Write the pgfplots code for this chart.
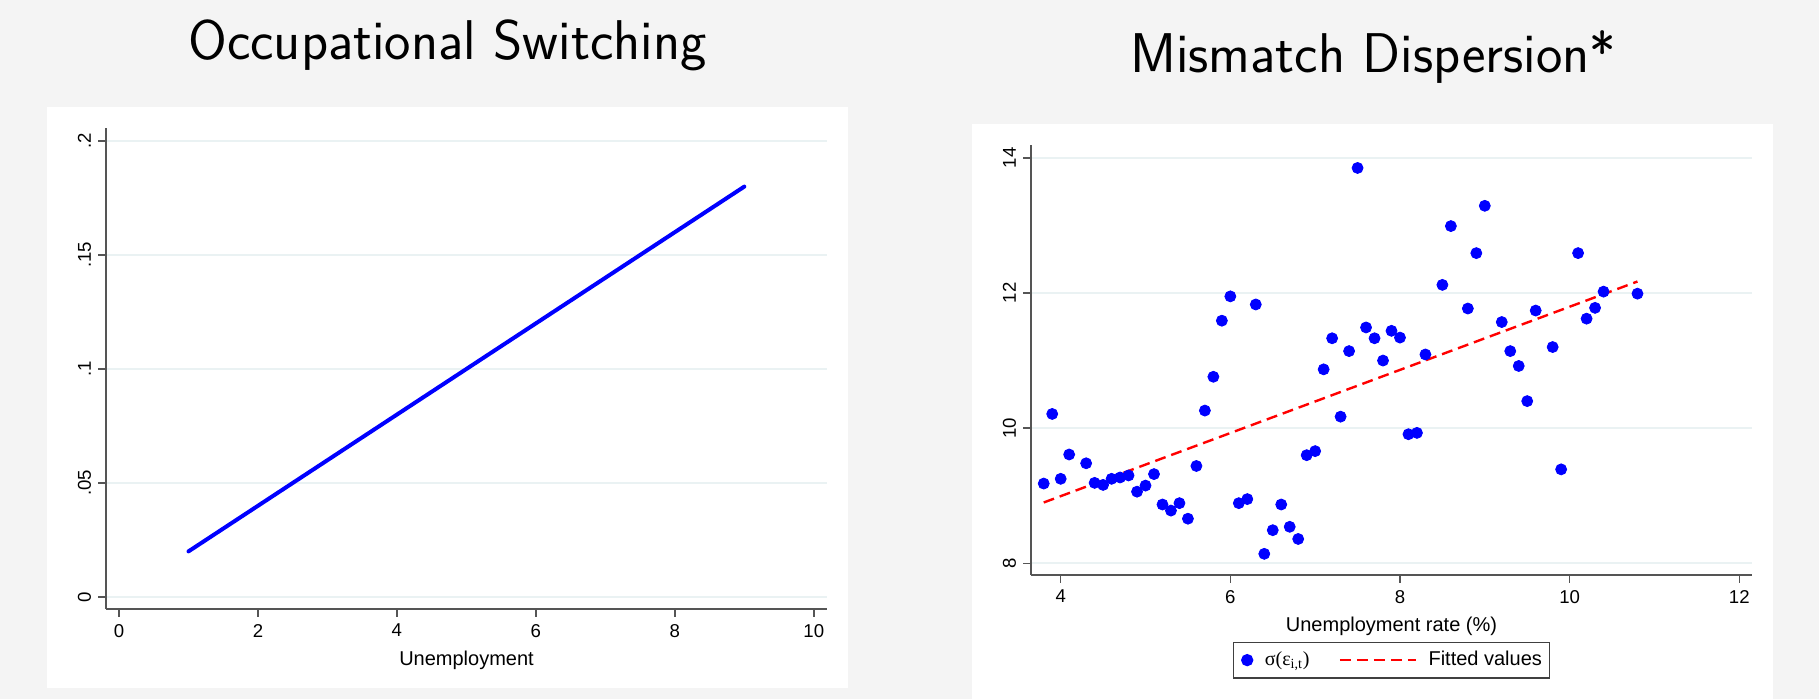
\documentclass[border=0pt]{standalone}
\usepackage{fontspec}
\setmainfont{Liberation Sans}
\newfontfamily\serifgr{Liberation Serif}
\usepackage{pgfplots}
\pgfplotsset{compat=1.18}
\definecolor{bggray}{RGB}{244,244,244}
\definecolor{gridc}{RGB}{234,242,243}
\definecolor{axc}{RGB}{85,85,85}
\pgfplotsset{stata/.style={
  scale only axis,
  axis lines=left,
  axis line style={-, axc, line width=0.75pt},
  every tick/.style={axc, line width=0.75pt},
  major tick length=4pt,
  tick align=outside,
  ymajorgrids,
  major grid style={gridc, line width=1pt},
  tick label style={font=\fontsize{9.3}{10}\selectfont},
  label style={font=\fontsize{10}{11}\selectfont},
  yticklabel style={rotate=90, anchor=south},
}}
\pgfplotstableread{
x y
3.8 9.18
3.9 10.21
4.0 9.25
4.1 9.61
4.3 9.48
4.4 9.19
4.5 9.16
4.6 9.25
4.7 9.27
4.8 9.30
4.9 9.06
5.0 9.15
5.1 9.32
5.2 8.87
5.3 8.78
5.4 8.89
5.5 8.66
5.6 9.44
5.7 10.26
5.8 10.76
5.9 11.59
6.0 11.95
6.1 8.89
6.2 8.95
6.3 11.83
6.4 8.14
6.5 8.49
6.6 8.87
6.7 8.54
6.8 8.36
6.9 9.60
7.0 9.66
7.1 10.87
7.2 11.33
7.3 10.17
7.4 11.14
7.5 13.85
7.6 11.49
7.7 11.33
7.8 11.00
7.9 11.44
8.0 11.34
8.1 9.91
8.2 9.93
8.3 11.09
8.5 12.12
8.6 12.99
8.8 11.77
8.9 12.59
9.0 13.29
9.2 11.57
9.3 11.14
9.4 10.92
9.5 10.40
9.6 11.74
9.8 11.20
9.9 9.39
10.1 12.59
10.2 11.62
10.3 11.78
10.4 12.02
10.8 11.99
}\mismatch
\begin{document}
\begin{tikzpicture}
\useasboundingbox (0,0) rectangle (909.5pt,349.5pt);
\fill[bggray] (0,0) rectangle (909.5pt,349.5pt);
\fill[white] (23.5pt,5.5pt) rectangle (424pt,296pt);
\fill[white] (486pt,0pt) rectangle (886.5pt,287.5pt);
\node[anchor=base, font=\sffamily\fontsize{28}{30}\selectfont] at (223.75pt,319.5pt) {Occupational Switching};
\node[anchor=base, font=\sffamily\fontsize{28}{30}\selectfont] at (686.5pt,313pt) {Mismatch Dispersion*};
\begin{axis}[stata,
  at={(53pt,45pt)}, anchor=south west,
  width=360.5pt, height=240.5pt,
  xmin=-0.187, xmax=10.19, ymin=-0.00526, ymax=0.2057,
  xtick={0,2,4,6,8,10}, xticklabels={0,2,4,6,8,10},
  ytick={0,0.05,0.1,0.15,0.2}, yticklabels={0,.05,.1,.15,.2},
  xlabel={Unemployment},
]
\addplot[blue, line width=2pt, line cap=round] coordinates {(1,0.02) (9,0.18)};
\end{axis}
\begin{axis}[stata,
  at={(515.5pt,62pt)}, anchor=south west,
  width=360.5pt, height=215pt,
  xmin=3.65, xmax=12.15, ymin=7.827, ymax=14.19,
  xtick={4,6,8,10,12}, xticklabels={4,6,8,10,12},
  ytick={8,10,12,14}, yticklabels={8,10,12,14},
  xlabel={Unemployment rate (\%)},
  legend columns=2,
  legend style={at={(0.5,-0.198)}, anchor=center, draw=black!75, line width=0.65pt,
    font=\fontsize{10}{11}\selectfont,
    inner xsep=3.75pt, inner ysep=4.5pt,
    nodes={inner sep=0pt},
    /tikz/every odd column/.append style={column sep=5.75pt},
    /tikz/every even column/.append style={column sep=14.5pt}},
]
\addplot[only marks, mark=*, mark size=2.75pt, color=blue, mark options={draw=blue, fill=blue},
  legend image code/.code={\fill[blue] (2.75pt,0pt) circle (2.75pt);}] table[x=x,y=y] {\mismatch};
\addlegendentry{{\serifgr\fontsize{10}{11}\selectfont σ(ε\textsubscript{i,t})}}
\addplot[red, line width=1.2pt, dash pattern=on 5.5pt off 3pt,
  legend image code/.code={\draw[red, line width=1.2pt, dash pattern=on 5.5pt off 3pt] (0pt,0pt) -- (38pt,0pt);}] coordinates {(3.8,8.90) (10.8,12.17)};
\addlegendentry{Fitted values\hspace{5pt}}
\end{axis}
\end{tikzpicture}
\end{document}
